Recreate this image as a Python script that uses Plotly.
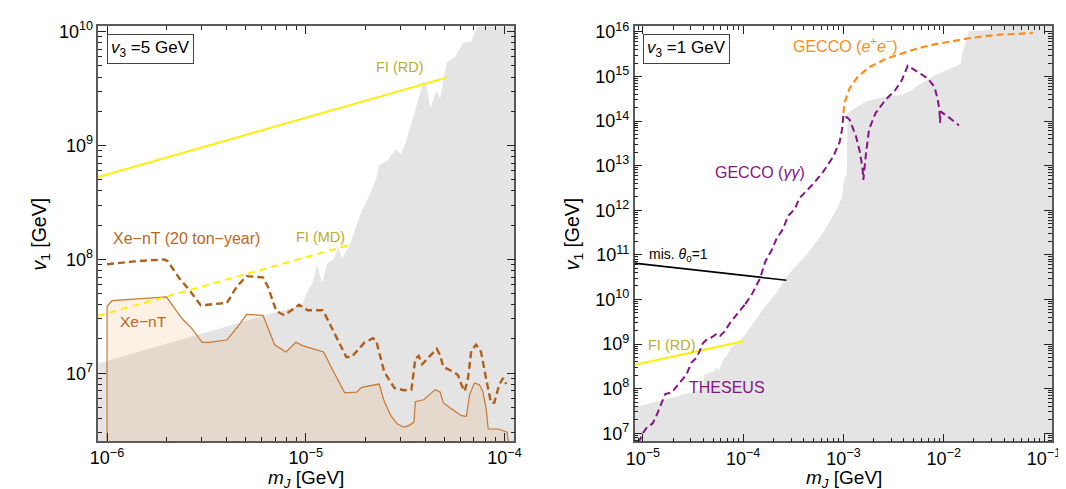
import numpy as np
import plotly.graph_objects as go

# ---------------- LEFT PANEL (v3 = 5 GeV) ----------------
# excluded (gray) region, upper boundary then closed around the lower-right
gray_L_m = [8.0e-7, 9.6e-6, 1.0e-5, 1.08e-5, 1.14e-5, 1.21e-5, 1.28e-5, 1.38e-5, 1.46e-5,
            1.52e-5, 1.70e-5, 1.80e-5, 1.91e-5, 2.06e-5, 2.26e-5, 2.34e-5, 2.58e-5, 2.84e-5,
            3.01e-5, 3.18e-5, 3.56e-5, 3.92e-5, 4.07e-5, 4.23e-5, 4.56e-5, 4.74e-5, 5.12e-5,
            5.62e-5, 6.18e-5, 6.81e-5, 7.33e-5, 2.0e-4, 2.0e-4, 8.0e-7]
gray_L_v = [1.15e7, 4.0e7, 4.9e7, 6.2e7, 8.9e7, 6.2e7, 9.2e7, 1.01e8, 1.28e8,
            1.01e8, 1.46e8, 2.03e8, 2.64e8, 3.44e8, 5.12e8, 6.68e8, 7.38e8, 9.29e8,
            8.41e8, 1.06e9, 2.06e9, 3.73e9, 3.27e9, 2.13e9, 3.05e9, 2.59e9, 5.37e9,
            5.93e9, 8.0e9, 8.24e9, 1.15e10, 2.0e10, 1.0e6, 1.0e6]

# Xe-nT (solid)
xent_m = [1.0e-6, 1.0e-6, 1.06e-6, 1.38e-6, 1.99e-6, 2.18e-6, 2.40e-6, 2.69e-6, 3.01e-6, 3.25e-6,
          4.01e-6, 4.58e-6, 5.04e-6, 6.09e-6, 6.97e-6, 7.95e-6, 8.91e-6, 9.62e-6, 1.10e-5, 1.23e-5,
          1.38e-5, 1.57e-5, 1.80e-5, 1.91e-5, 2.34e-5, 2.48e-5, 2.68e-5, 2.89e-5, 3.12e-5, 3.30e-5,
          3.50e-5, 3.56e-5, 3.92e-5, 4.48e-5, 4.74e-5, 4.92e-5, 5.31e-5, 5.62e-5, 6.07e-5, 6.43e-5,
          6.67e-5, 7.06e-5, 7.48e-5, 7.77e-5, 8.07e-5, 8.28e-5, 9.31e-5, 1.03e-4, 1.06e-4]
xent_v = [2.0e6, 3.88e7, 4.34e7, 4.50e7, 4.68e7, 3.76e7, 2.98e7, 2.44e7, 1.87e7, 1.87e7,
          1.96e7, 2.61e7, 3.29e7, 3.23e7, 1.78e7, 1.54e7, 1.87e7, 1.75e7, 1.64e7, 1.54e7,
          1.03e7, 6.73e6, 6.82e6, 7.53e6, 8.04e6, 5.70e6, 4.24e6, 3.58e6, 3.36e6, 3.47e6,
          3.71e6, 5.62e6, 5.85e6, 7.18e6, 6.86e6, 5.51e6, 4.99e6, 4.68e6, 4.24e6, 4.18e6,
          6.50e6, 8.20e6, 7.93e6, 6.95e6, 4.99e6, 3.24e6, 3.24e6, 3.04e6, 2.0e6]

# Xe-nT (20 ton-year) projection (dashed)
xe20_m = [1.0e-6, 1.38e-6, 1.95e-6, 2.02e-6, 2.31e-6, 2.59e-6, 2.96e-6, 4.01e-6, 4.49e-6, 5.04e-6,
          6.09e-6, 6.45e-6, 7.10e-6, 7.80e-6, 8.58e-6, 9.25e-6, 1.02e-5, 1.21e-5, 1.25e-5, 1.41e-5,
          1.60e-5, 1.70e-5, 1.98e-5, 2.18e-5, 2.26e-5, 2.48e-5, 2.79e-5, 3.12e-5, 3.40e-5, 3.56e-5,
          3.70e-5, 3.85e-5, 4.56e-5, 4.74e-5, 4.92e-5, 5.52e-5, 5.83e-5, 6.07e-5, 6.31e-5, 6.55e-5,
          6.81e-5, 7.20e-5, 7.62e-5, 8.07e-5, 8.55e-5, 8.88e-5, 9.40e-5, 9.84e-5, 1.02e-4]
xe20_v = [9.06e7, 9.62e7, 1.0e8, 9.66e7, 6.82e7, 5.41e7, 3.95e7, 4.15e7, 5.77e7, 7.13e7,
          6.95e7, 5.77e7, 3.52e7, 3.23e7, 3.63e7, 4.01e7, 3.58e7, 3.58e7, 3.29e7, 2.14e7,
          1.39e7, 1.39e7, 1.87e7, 2.03e7, 1.94e7, 1.03e7, 7.43e6, 7.10e6, 7.18e6, 1.35e7,
          1.42e7, 1.20e7, 1.64e7, 1.44e7, 1.14e7, 1.03e7, 9.67e6, 7.93e6, 6.95e6, 9.06e6,
          1.59e7, 1.78e7, 1.54e7, 9.06e6, 5.51e6, 5.51e6, 7.93e6, 9.06e6, 8.04e6]

# freeze-in lines
fi_rd_L_m = [9.0e-7, 5.1e-5]
fi_rd_L_v = [5.3e8, 3.95e9]
fi_md_L_m = [9.0e-7, 1.71e-5]
fi_md_L_v = [3.19e7, 1.36e8]

# ---------------- RIGHT PANEL (v3 = 1 GeV) ----------------
gray_R_m = [8.0e-6, 3.54e-5, 3.96e-5, 4.11e-5, 5.15e-5, 5.35e-5, 5.77e-5, 6.46e-5, 6.97e-5, 7.50e-5,
            8.73e-5, 1.01e-4, 1.59e-4, 2.15e-4, 2.91e-4, 4.24e-4, 6.17e-4, 8.35e-4, 9.68e-4, 1.02e-3,
            1.08e-3, 1.10e-3, 1.67e-3, 2.43e-3, 3.81e-3, 4.78e-3, 5.56e-3, 8.09e-3, 1.48e-2, 1.53e-2,
            1.66e-2, 1.78e-2, 2.91e-2, 3.14e-2, 0.2, 0.2, 8.0e-6]
gray_R_v = [3.73e7, 9.0e7, 1.06e8, 2.08e8, 2.47e8, 2.92e8, 2.69e8, 4.85e8, 5.73e8, 8.04e8,
            1.04e9, 1.46e9, 6.10e9, 1.42e10, 3.90e10, 9.84e10, 2.95e11, 9.6e11, 1.88e12, 5.18e12,
            6.15e12, 1.51e14, 2.74e14, 3.40e14, 3.82e14, 4.92e14, 6.34e14, 1.05e15, 1.90e15, 3.15e15,
            6.18e15, 1.03e16, 1.12e16, 2.0e16, 2.0e16, 1.0e6, 1.0e6]

theseus_m = [9.0e-6, 1.0e-5, 1.08e-5, 1.25e-5, 1.35e-5, 1.49e-5, 1.67e-5, 1.94e-5, 2.25e-5, 2.72e-5,
             3.04e-5, 3.40e-5, 3.67e-5, 3.96e-5, 4.27e-5, 4.96e-5, 5.47e-5, 5.90e-5, 6.46e-5, 7.50e-5,
             8.73e-5, 1.05e-4]
theseus_v = [6.0e6, 1.0e7, 1.29e7, 1.66e7, 2.33e7, 3.86e7, 7.57e7, 8.24e7, 1.26e8, 2.08e8,
             3.77e8, 4.85e8, 6.81e8, 1.04e9, 1.22e9, 1.46e9, 1.72e9, 1.53e9, 1.87e9, 3.11e9,
             4.73e9, 7.85e9]

gecco_gg_m = [1.05e-4, 1.22e-4, 1.32e-4, 1.48e-4, 1.66e-4, 1.92e-4, 2.15e-4, 2.50e-4, 2.80e-4, 3.26e-4,
              3.65e-4, 5.0e-4, 6.27e-4, 7.85e-4, 9.14e-4, 9.68e-4, 1.0e-3, 1.15e-3, 1.33e-3, 1.46e-3,
              1.55e-3, 1.58e-3, 1.67e-3, 1.80e-3, 2.09e-3, 2.62e-3, 3.28e-3, 3.81e-3, 4.18e-3, 4.37e-3,
              5.56e-3, 6.97e-3, 8.09e-3, 8.73e-3, 9.05e-3, 9.2e-3, 9.27e-3, 1.09e-2, 1.42e-2]
gecco_gg_v = [7.85e9, 1.30e10, 1.83e10, 3.03e10, 7.01e10, 1.27e11, 2.29e11, 3.80e11, 7.46e11, 1.05e12,
              1.88e12, 3.9e12, 7.28e12, 1.55e13, 3.32e13, 6.50e13, 1.39e14, 1.08e14, 4.66e13, 2.0e13,
              8.59e12, 4.78e12, 1.69e13, 6.50e13, 1.51e14, 2.97e14, 4.92e14, 8.17e14, 1.35e15, 1.75e15,
              1.25e15, 8.9e14, 5.85e14, 2.97e14, 1.79e14, 9.12e13, 1.65e14, 1.28e14, 7.96e13]

gecco_ee_m = [1.0e-3, 1.02e-3, 1.15e-3, 1.38e-3, 1.80e-3, 2.62e-3, 3.81e-3, 5.56e-3, 8.09e-3,
              1.18e-2, 1.72e-2, 2.50e-2, 3.65e-2, 5.31e-2, 7.73e-2]
gecco_ee_v = [1.51e14, 2.51e14, 5.37e14, 9.70e14, 1.61e15, 2.45e15, 3.27e15, 4.28e15, 5.24e15,
              6.18e15, 7.10e15, 7.96e15, 8.67e15, 8.99e15, 9.46e15]

mis_m = [8.0e-6, 2.7e-4]
mis_v = [6.55e10, 2.7e10]
fi_rd_R_m = [8.0e-6, 1.0e-4]
fi_rd_R_v = [3.35e8, 1.15e9]

# tick labels
xL_ticks = [1e-6, 1e-5, 1e-4]
xL_text = ["10<sup>−6</sup>", "10<sup>−5</sup>", "10<sup>−4</sup>"]
yL_ticks = [1e7, 1e8, 1e9, 1e10]
yL_text = ["10<sup>7</sup>", "10<sup>8</sup>", "10<sup>9</sup>", "10<sup>10</sup>"]
xR_ticks = [1e-5, 1e-4, 1e-3, 1e-2, 1e-1]
xR_text = ["10<sup>−5</sup>", "10<sup>−4</sup>", "10<sup>−3</sup>", "10<sup>−2</sup>", "10<sup>−1</sup>"]
yR_ticks = [10.0 ** k for k in range(7, 17)]
yR_text = ["10<sup>%d</sup>" % k for k in range(7, 17)]

# ---------------- styling ----------------
FONT = "Liberation Sans, Arial, Helvetica, sans-serif"
GRAY = "rgb(228,228,228)"
YELLOW = "rgb(255,240,0)"
OLIVE = "rgb(184,176,42)"
BROWN_LINE = "rgb(200,120,50)"
BROWN_DASH = "rgb(176,96,26)"
BROWN_TEXT = "rgb(190,102,35)"
PURPLE = "rgb(135,20,135)"
ORANGE = "rgb(255,140,26)"

fig = go.Figure()


def line(x, y, xa, ya, color, width, dash="solid"):
    fig.add_trace(go.Scatter(x=x, y=y, xaxis=xa, yaxis=ya, mode="lines",
                             line=dict(color=color, width=width, dash=dash),
                             hoverinfo="skip", showlegend=False))


def area(x, y, xa, ya, fillcolor, color=None, width=0):
    fig.add_trace(go.Scatter(x=x, y=y, xaxis=xa, yaxis=ya, mode="lines", fill="toself",
                             fillcolor=fillcolor,
                             line=dict(color=color or fillcolor, width=width),
                             hoverinfo="skip", showlegend=False))


# left
area(gray_L_m, gray_L_v, "x", "y", GRAY)
area(xent_m, xent_v, "x", "y", "rgba(238,130,30,0.12)", BROWN_LINE, 1.2)
line(xe20_m, xe20_v, "x", "y", BROWN_DASH, 2.4, "7px,4px")
line(fi_rd_L_m, fi_rd_L_v, "x", "y", YELLOW, 2)
line(fi_md_L_m, fi_md_L_v, "x", "y", YELLOW, 2, "7px,5px")

# right
area(gray_R_m, gray_R_v, "x2", "y2", GRAY)
line(mis_m, mis_v, "x2", "y2", "black", 1.6)
line(fi_rd_R_m, fi_rd_R_v, "x2", "y2", YELLOW, 2)
line(theseus_m, theseus_v, "x2", "y2", PURPLE, 2, "7px,4px")
line(gecco_gg_m, gecco_gg_v, "x2", "y2", PURPLE, 2, "7px,4px")
line(gecco_ee_m, gecco_ee_v, "x2", "y2", ORANGE, 2.2, "7px,4px")


def minors(lo, hi):
    out = []
    for k in range(lo, hi + 1):
        for d in range(2, 10):
            out.append(d * 10.0 ** k)
    return out


def axis(domain, rng, tv, tt, minor_vals, anchor):
    return dict(type="log", domain=domain, range=rng, anchor=anchor,
                tickmode="array", tickvals=tv, ticktext=tt,
                ticks="inside", ticklen=8, tickwidth=1, tickcolor="#222",
                minor=dict(ticks="inside", ticklen=4, tickwidth=1, tickcolor="#222",
                           tickmode="array", tickvals=minor_vals, showgrid=False),
                showline=True, linecolor="#5a5a5a", linewidth=1.5, mirror="allticks",
                showgrid=False, zeroline=False,
                tickfont=dict(family=FONT, size=18, color="black"))


W, H = 1066, 489
fig.update_layout(
    width=W, height=H, margin=dict(l=0, r=0, t=0, b=0),
    paper_bgcolor="white", plot_bgcolor="white", showlegend=False, hovermode=False,
    xaxis=axis([82.7 / W, 506 / W], [-6.044, -3.95], xL_ticks, xL_text, minors(-7, -4), "y"),
    yaxis=axis([1 - 434 / H, 1 - 11.7 / H], [6.405, 10.046], yL_ticks, yL_text, minors(6, 10), "x"),
    xaxis2=axis([628.3 / W, 1053 / W], [-5.082, -0.918], xR_ticks, xR_text, minors(-6, -1), "y2"),
    yaxis2=axis([1 - 434.3 / H, 1 - 11 / H], [6.818, 16.136], yR_ticks, yR_text, minors(6, 16), "x2"),
)

ann = []


def label(text, m, v, xref, yref, color, size):
    ann.append(dict(text=text, x=np.log10(m), y=np.log10(v), xref=xref, yref=yref,
                    showarrow=False, font=dict(family=FONT, size=size, color=color),
                    xanchor="center", yanchor="middle"))


label("FI (RD)", 2.99e-5, 4.9e9, "x", "y", OLIVE, 14.5)
label("FI (MD)", 1.19e-5, 1.57e8, "x", "y", OLIVE, 14.5)
label("Xe−nT (20 ton−year)", 2.51e-6, 1.52e8, "x", "y", BROWN_TEXT, 16)
label("Xe−nT", 1.53e-6, 2.84e7, "x", "y", BROWN_TEXT, 15.5)

label("GECCO (<i>e</i><sup>+</sup><i>e</i><sup>−</sup>)", 1.06e-3, 4.98e15, "x2", "y2", ORANGE, 16)
label("GECCO (<i>γγ</i>)", 1.46e-4, 6.9e12, "x2", "y2", PURPLE, 16)
label("mis. <i>θ</i><sub>0</sub>=1", 2.27e-5, 1.0e11, "x2", "y2", "black", 14)
label("FI (RD)", 1.95e-5, 9.7e8, "x2", "y2", OLIVE, 14.5)
label("THESEUS", 6.97e-5, 1.08e8, "x2", "y2", PURPLE, 16)

# boxed parameter labels
for txt, xr, yr in [("<i>v</i><sub>3</sub> =5 GeV", "x domain", "y domain"),
                    ("<i>v</i><sub>3</sub> =1 GeV", "x2 domain", "y2 domain")]:
    ann.append(dict(text=txt, x=0.021, y=0.981, xref=xr, yref=yr, xanchor="left", yanchor="top",
                    showarrow=False, font=dict(family=FONT, size=17, color="black"),
                    bordercolor="#444", borderwidth=1, borderpad=3, bgcolor="white"))

# axis titles
for xc in [294.3 / W, 840.7 / W]:
    ann.append(dict(text="<i>m</i><sub><i>J</i></sub> [GeV]", x=xc, y=1 - 486.5 / H,
                    xref="paper", yref="paper", showarrow=False, xanchor="center", yanchor="bottom",
                    font=dict(family=FONT, size=19, color="black")))
for xc in [24 / W, 566 / W]:
    ann.append(dict(text="<i>v</i><sub>1</sub> [GeV]", x=xc, y=1 - 223 / H, textangle=-90,
                    xref="paper", yref="paper", showarrow=False, xanchor="center", yanchor="middle",
                    font=dict(family=FONT, size=19.5, color="black")))

fig.update_layout(annotations=ann)
fig.write_html("out.html")
